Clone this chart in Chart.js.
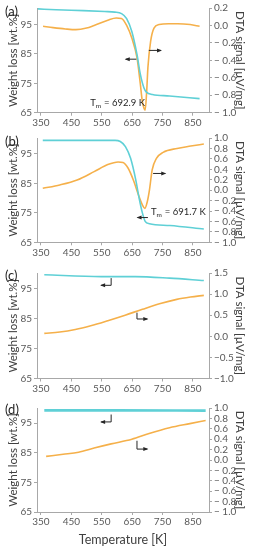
<!DOCTYPE html>
<html><head><meta charset="utf-8">
<script src="https://cdn.jsdelivr.net/npm/chart.js@4.4.1/dist/chart.umd.min.js"></script>
<style>
html,body{margin:0;padding:0;background:#fff;width:253px;height:550px;overflow:hidden;font-family:Lato,sans-serif}
canvas.p{position:absolute;left:0;width:253px}
.lab{position:absolute;left:5px;font-size:13px;line-height:13px;color:#262626;font-family:Lato,sans-serif}
</style></head><body>
<canvas id="ca" class="p" style="top:0px;height:130px" width="253" height="130"></canvas>
<canvas id="cb" class="p" style="top:130px;height:130px" width="253" height="130"></canvas>
<canvas id="cc" class="p" style="top:265px;height:130px" width="253" height="130"></canvas>
<canvas id="cd" class="p" style="top:400px;height:150px" width="253" height="150"></canvas>
<div class="lab" style="top:5px">(a)</div>
<div class="lab" style="top:135px">(b)</div>
<div class="lab" style="top:269px">(c)</div>
<div class="lab" style="top:403px">(d)</div>
<script>
// ---- tick labels ----
const xTicks = [350, 450, 550, 650, 750, 850];
const leftTicks = [65, 75, 85, 95];
const rightTicksA = [0.2, 0.0, -0.2, -0.4, -0.6, -0.8, -1.0];
const rightLabelsA = ['0.2', '0.0', '\u2212 0.2', '\u2212 0.4', '\u2212 0.6', '\u2212 0.8', '\u2212 1.0'];
const rightTicksB = [1.0, 0.8, 0.6, 0.4, 0.2, 0.0, -0.2, -0.4, -0.6, -0.8, -1.0];
const rightLabelsB = ['1.0', '0.8', '0.6', '0.4', '0.2', '0.0', '\u2212 0.2', '\u2212 0.4', '\u2212 0.6', '\u2212 0.8', '\u2212 1.0'];
const rightTicksC = [1.5, 1.0, 0.5, 0.0, -0.5, -1.0];
const rightLabelsC = ['1.5', '1.0', '0.5', '0.0', '\u22120.5', '\u22121.0'];
const rightTicksD = rightTicksB;
const rightLabelsD = rightLabelsB;

// ---- panel (a) ----
const tempA_w = [340, 400, 490, 560, 593, 615, 632, 649, 666, 677, 689, 697, 717, 773, 872];
const weightA = [100.3, 100.0, 99.7, 99.4, 99.2, 98.7, 97.0, 92.6, 84.8, 78.1, 73.4, 72.0, 71.2, 70.7, 69.8];
const tempA_d = [357, 390, 430, 465, 500, 525, 570, 598, 615, 632, 649, 666, 677, 683, 689, 693, 698, 702, 711, 722, 739, 770, 800, 841, 872];
const dtaA = [-0.01, -0.025, -0.04, -0.048, -0.03, 0.0, 0.06, 0.085, 0.08, 0.0, -0.145, -0.37, -0.67, -0.855, -0.95, -0.97, -0.75, -0.48, -0.18, -0.03, 0.01, 0.02, 0.02, 0.01, -0.01];

// ---- panel (b) ----
const tempB_w = [356, 450, 594, 611, 628, 645, 662, 673, 684, 693, 707, 774, 886];
const weightB = [99.6, 99.6, 99.6, 99.2, 97.5, 93.5, 86.2, 80.0, 74.9, 72.1, 71.3, 70.7, 69.5];
const tempB_d = [356, 412, 469, 525, 570, 604, 620, 637, 654, 673, 684, 692, 700, 707, 716, 730, 752, 798, 843, 886];
const dtaB = [0.035, 0.10, 0.195, 0.355, 0.49, 0.54, 0.53, 0.42, 0.195, -0.125, -0.285, -0.35, -0.22, 0.0, 0.39, 0.61, 0.725, 0.80, 0.845, 0.885];

// ---- panel (c) ----
const tempC_w = [361, 548, 660, 773, 886];
const weightC = [99.5, 98.9, 98.9, 98.4, 97.6];
const tempC_d = [361, 412, 463, 514, 570, 627, 684, 740, 797, 842, 886];
const dtaC = [0.07, 0.10, 0.16, 0.25, 0.37, 0.50, 0.64, 0.77, 0.875, 0.93, 0.97];

// ---- panel (d) ----
const tempD_w = [361, 600, 892];
const weightD = [99.3, 99.3, 99.2];
const tempD_d = [367, 423, 474, 525, 581, 649, 706, 773, 840, 892];
const dtaD = [0.07, 0.11, 0.15, 0.23, 0.31, 0.40, 0.51, 0.62, 0.70, 0.76];

const CYAN = '#5fd0d6';
const ORANGE = '#f5b04a';
const AXIS = '#a8a8a8';
const TICKC = '#595959';
const TITLEC = '#404040';
const TITLEFONT = 'Lato, sans-serif';
Chart.defaults.font.family = 'Lato, sans-serif';

const pts = (xs, ys) => xs.map((x, i) => ({x: x, y: ys[i]}));

const annot = {
  id: 'annot',
  afterDatasetsDraw(chart, args, opts) {
    const ctx = chart.ctx;
    ctx.save();
    ctx.strokeStyle = '#262626';
    ctx.fillStyle = '#262626';
    ctx.lineWidth = 1;
    (opts.arrows || []).forEach(a => {
      const sy = chart.scales[a.axis], sx = chart.scales.x;
      const p = a.pts.map(q => [sx.getPixelForValue(q[0]), sy.getPixelForValue(q[1])]);
      ctx.beginPath();
      ctx.moveTo(p[0][0], p[0][1]);
      for (let i = 1; i < p.length; i++) ctx.lineTo(p[i][0], p[i][1]);
      ctx.stroke();
      const n = p.length;
      const [x1, y1] = p[n - 2], [x2, y2] = p[n - 1];
      const ang = Math.atan2(y2 - y1, x2 - x1);
      const L = 4, W = 2;
      ctx.beginPath();
      ctx.moveTo(x2 + Math.cos(ang), y2 + Math.sin(ang));
      ctx.lineTo(x2 - L * Math.cos(ang) + W * Math.sin(ang), y2 - L * Math.sin(ang) - W * Math.cos(ang));
      ctx.lineTo(x2 - L * Math.cos(ang) - W * Math.sin(ang), y2 - L * Math.sin(ang) + W * Math.cos(ang));
      ctx.closePath();
      ctx.fill();
    });
    (opts.texts || []).forEach(t => {
      const x = chart.scales.x.getPixelForValue(t.x);
      const y = chart.scales[t.axis].getPixelForValue(t.y);
      ctx.textBaseline = 'alphabetic';
      ctx.textAlign = 'left';
      ctx.font = '9.5px Lato, sans-serif';
      ctx.fillText('T', x, y + 3.5);
      const w1 = ctx.measureText('T').width;
      ctx.font = '6.5px Lato, sans-serif';
      ctx.fillText('m', x + w1, y + 5.5);
      const w2 = ctx.measureText('m').width;
      ctx.font = '9.5px Lato, sans-serif';
      ctx.fillText(t.text, x + w1 + w2 + 0.5, y + 3.5);
    });
    ctx.restore();
  }
};

function build(id, p) {
  const cfg = {
    type: 'line',
    data: {
      datasets: [
        {data: pts(p.tw, p.w), yAxisID: 'yL', borderColor: CYAN, borderWidth: p.cw || 1.6},
        {data: pts(p.td, p.d), yAxisID: 'yR', borderColor: ORANGE, borderWidth: 1.6}
      ]
    },
    options: {
      responsive: false,
      animation: false,
      devicePixelRatio: 1,
      layout: {padding: {top: p.padTop, left: 0, right: 0, bottom: 0}},
      elements: {point: {radius: 0}, line: {cubicInterpolationMode: 'monotone', fill: false}},
      plugins: {legend: {display: false}, tooltip: {enabled: false}, annot: p.annot},
      scales: {
        x: {
          type: 'linear', min: 337, max: 903,
          afterBuildTicks: s => { s.ticks = xTicks.map(v => ({value: v})); },
          afterFit: s => { s.height = p.xh; },
          border: {color: AXIS, width: 1},
          grid: {drawOnChartArea: false, drawTicks: true, tickLength: 3, color: AXIS},
          ticks: {color: TICKC, font: {size: 10}, padding: 1, maxRotation: 0, autoSkip: false, callback: v => String(v)},
          title: p.xTitle ? {display: true, text: 'Temperature [K]', color: TITLEC, font: {size: 12.5, family: TITLEFONT}, padding: {top: 0, bottom: 3}} : {display: false}
        },
        yL: {
          type: 'linear', position: 'left', min: 65, max: p.lmax,
          afterBuildTicks: s => { s.ticks = leftTicks.map(v => ({value: v})); },
          afterFit: s => { s.width = 37; },
          border: {color: AXIS, width: 1},
          grid: {drawOnChartArea: false, drawTicks: true, tickLength: 3, color: AXIS},
          ticks: {color: TICKC, font: {size: 10}, padding: 2, autoSkip: false, callback: v => String(v)},
          title: {display: true, text: 'Weight loss [wt.%]', color: TITLEC, font: {size: 11.5, family: TITLEFONT}, padding: {top: 6, bottom: 0}}
        },
        yR: {
          type: 'linear', position: 'right', min: p.rmin, max: p.rmax,
          afterBuildTicks: s => { s.ticks = p.rt.map(v => ({value: v})); },
          afterFit: s => { s.width = 44; },
          border: {color: AXIS, width: 1},
          grid: {drawOnChartArea: false, drawTicks: true, tickLength: 3, color: AXIS},
          ticks: {color: TICKC, font: {size: 10}, padding: 2, autoSkip: false,
                  callback: (v, i) => p.rl[i]},
          title: {display: true, text: 'DTA signal [\u00b5V/mg]', color: TITLEC, font: {size: 11.5, family: TITLEFONT}, padding: {top: 6, bottom: 0}}
        }
      }
    },
    plugins: [annot]
  };
  return new Chart(document.getElementById(id), cfg);
}

build('ca', {tw: tempA_w, w: weightA, td: tempA_d, d: dtaA, padTop: 6, xh: 17.3, lmax: 100.6,
  rmin: -1.0, rmax: 0.2, rt: rightTicksA, rl: rightLabelsA,
  annot: {texts: [{x: 512, y: 68.6, axis: 'yL', text: ' = 692.9 K'}],
          arrows: [{axis: 'yL', pts: [[664, 83.2], [629, 83.2]]}, {axis: 'yR', pts: [[705, -0.286], [745, -0.286]]}]}});
build('cb', {tw: tempB_w, w: weightB, td: tempB_d, d: dtaB, padTop: 8, xh: 17.7, lmax: 100.4,
  rmin: -1.0, rmax: 1.0, rt: rightTicksB, rl: rightLabelsB,
  annot: {texts: [{x: 712, y: -0.40, axis: 'yR', text: ' = 691.7 K'}],
          arrows: [{axis: 'yR', pts: [[719, 0.32], [759, 0.32]]}, {axis: 'yL', pts: [[702, 73.4], [668, 73.4]]}]}});
build('cc', {tw: tempC_w, w: weightC, td: tempC_d, d: dtaC, padTop: 7, xh: 16.5, lmax: 100.1,
  rmin: -1.0, rmax: 1.5, rt: rightTicksC, rl: rightLabelsC,
  annot: {arrows: [{axis: 'yL', pts: [[581, 98.4], [581, 96.0], [548, 96.0]]}, {axis: 'yR', pts: [[666, 0.56], [666, 0.41], [700, 0.41]]}]}});
build('cd', {tw: tempD_w, w: weightD, td: tempD_d, d: dtaD, padTop: 7, xh: 38, lmax: 100.1, cw: 2.6, xTitle: true,
  rmin: -1.0, rmax: 1.0, rt: rightTicksD, rl: rightLabelsD,
  annot: {arrows: [{axis: 'yL', pts: [[581, 97.9], [581, 95.4], [548, 95.4]]}, {axis: 'yR', pts: [[666, 0.37], [666, 0.21], [700, 0.21]]}]}});
</script>
</body></html>
